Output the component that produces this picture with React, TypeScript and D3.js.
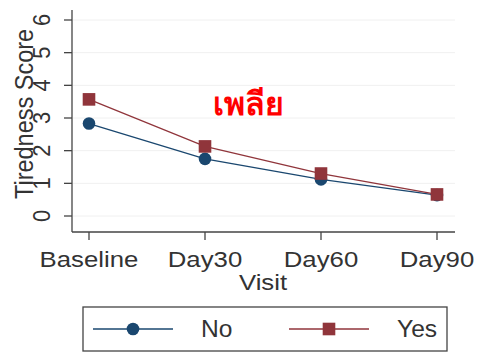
import React from "react";
import * as d3 from "d3";

const categories = ["Baseline", "Day30", "Day60", "Day90"];
const noValues = [2.83, 1.75, 1.12, 0.64];
const yesValues = [3.57, 2.13, 1.3, 0.66];
const yTicks = [0, 1, 2, 3, 4, 5, 6];
const seriesNames = ["No", "Yes"];
const overlayText = "เพลีย";

const W = 480;
const H = 354;
const NAVY = "#1a476f";
const MAROON = "#90353b";
const TEXT = "#333";
const FONT = "'Liberation Sans', Arial, sans-serif";
const SX = 1.12;

function SText(props: {
  x: number;
  y: number;
  size: number;
  anchor?: string;
  sx?: number;
  rotate?: number;
  children: React.ReactNode;
}) {
  const { x, y, size, anchor = "start", sx = SX, rotate = 0, children } = props;
  const t = rotate
    ? `translate(${x},${y}) rotate(${rotate}) scale(1,${sx})`
    : `translate(${x},${y}) scale(${sx},1)`;
  return (
    <text transform={t} textAnchor={anchor} fontSize={size} fill={TEXT}>
      {children}
    </text>
  );
}

export default function App() {
  const x = d3.scalePoint<string>().domain(categories).range([89, 437]);
  const y = d3.scaleLinear().domain([0, 6]).range([216, 20]);
  const line = d3
    .line<number>()
    .x((_, i) => x(categories[i]) as number)
    .y((d) => y(d));

  const series = [
    { name: seriesNames[0], values: noValues, color: NAVY, shape: "circle" },
    { name: seriesNames[1], values: yesValues, color: MAROON, shape: "square" },
  ];

  const marker = (shape: string, cx: number, cy: number, color: string, key: string) =>
    shape === "circle" ? (
      <circle key={key} cx={cx} cy={cy} r={6.3} fill={color} />
    ) : (
      <rect key={key} x={cx - 6.3} y={cy - 6.3} width={12.6} height={12.6} fill={color} />
    );

  return (
    <svg
      width={W}
      height={H}
      style={{ position: "absolute", left: 0, top: 0, background: "#fff" }}
      fontFamily={FONT}
    >
      <rect width={W} height={H} fill="#fff" />
      {yTicks.map((t) => (
        <line key={"g" + t} x1={73} x2={455} y1={y(t)} y2={y(t)} stroke="#f0f0f0" strokeWidth={1} />
      ))}
      <line x1={72} x2={72} y1={10} y2={232} stroke="#444" strokeWidth={1.3} />
      {yTicks.map((t) => (
        <g key={"yt" + t}>
          <line x1={64} x2={72} y1={y(t)} y2={y(t)} stroke="#444" strokeWidth={1.3} />
          <SText x={50} y={y(t)} size={22} anchor="middle" rotate={-90}>
            {t}
          </SText>
        </g>
      ))}
      <SText x={33} y={114} size={23.5} anchor="middle" rotate={-90}>
        Tiredness Score
      </SText>
      <line x1={72} x2={455} y1={232} y2={232} stroke="#444" strokeWidth={1.3} />
      {categories.map((c) => (
        <g key={"xt" + c}>
          <line x1={x(c)} x2={x(c)} y1={232} y2={240} stroke="#444" strokeWidth={1.3} />
          <SText x={x(c) as number} y={267} size={23} anchor="middle">
            {c}
          </SText>
        </g>
      ))}
      <SText x={263} y={290} size={23} anchor="middle">
        Visit
      </SText>
      {series.map((s) => (
        <g key={s.name}>
          <path d={line(s.values) || ""} fill="none" stroke={s.color} strokeWidth={1.3} />
          {s.values.map((v, i) =>
            marker(s.shape, x(categories[i]) as number, y(v), s.color, s.name + i)
          )}
        </g>
      ))}
      <text x={248} y={115} textAnchor="middle" fontSize={32} fontWeight="bold" fill="#ff0000">
        {overlayText}
      </text>
      <rect x={83} y={307} width={364} height={44} fill="#fff" stroke="#444" strokeWidth={1.3} />
      {series.map((s, i) => {
        const lx = i === 0 ? 93 : 289;
        const tx = i === 0 ? 201 : 397;
        return (
          <g key={"l" + s.name}>
            <line x1={lx} x2={lx + 80} y1={329} y2={329} stroke={s.color} strokeWidth={1.3} />
            {marker(s.shape, lx + 40, 329, s.color, "lm" + i)}
            <SText x={tx} y={337} size={23} sx={1.07}>
              {s.name}
            </SText>
          </g>
        );
      })}
    </svg>
  );
}
